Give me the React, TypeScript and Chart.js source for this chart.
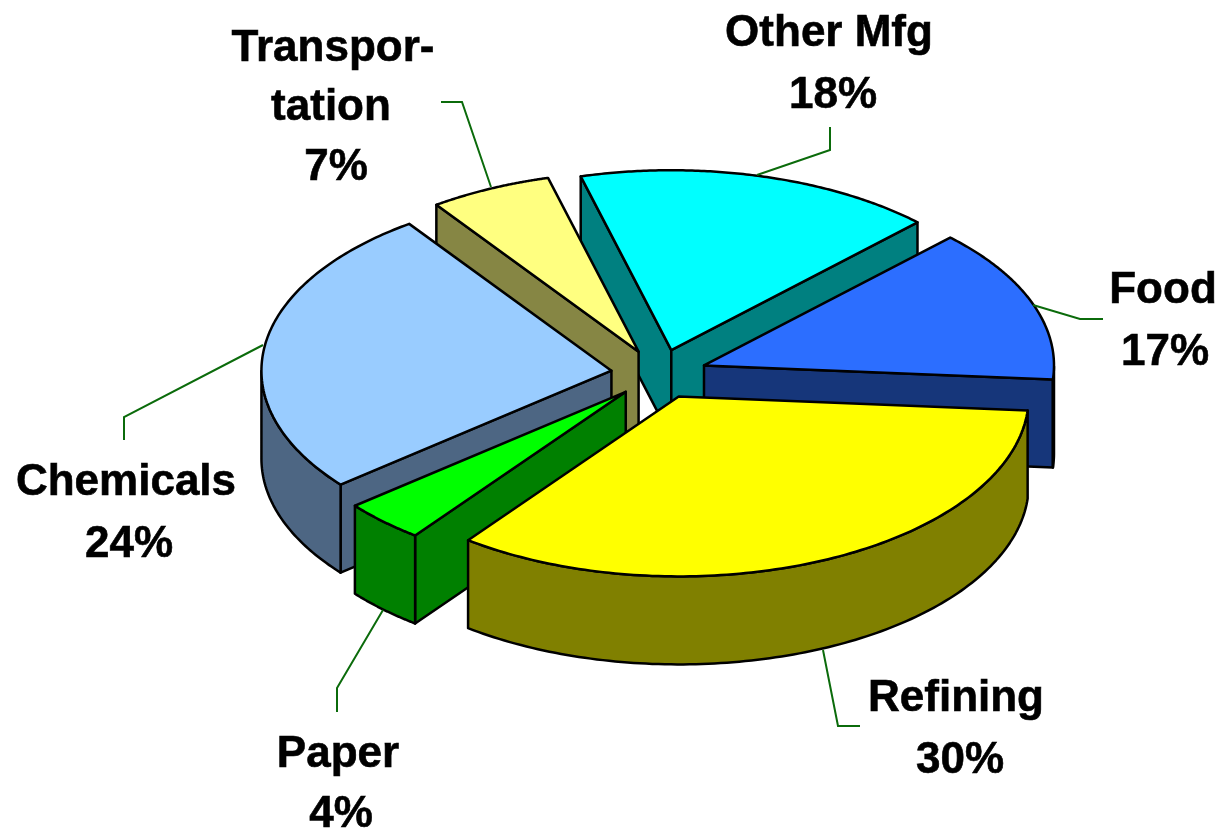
import React, { useEffect, useRef } from "react";
import { Chart, registerables } from "chart.js";

Chart.register(...registerables);

const categories = ["Food", "Refining", "Paper", "Chemicals", "Transportation", "Other Mfg"];
const shares = [17, 30, 4, 24, 7, 18];
const topColors = ["#2C6EFF", "#FFFF00", "#00FF00", "#99CCFF", "#FFFF80", "#00FFFF"];
const wallColors = ["#16367A", "#808000", "#008000", "#4D6683", "#868644", "#008080"];
const labelLines = [["Food"], ["Refining"], ["Paper"], ["Chemicals"], ["Transpor-", "tation"], ["Other Mfg"]];

// Layout of the labels: centre x and first baseline y per line, and the leader line next to each.
const labelAnchors = [
  [[1163, 303], [1165, 365]],
  [[956, 711], [960, 773]],
  [[338, 767], [341, 827]],
  [[126, 495], [129, 557]],
  [[333, 61], [331, 120], [336, 180]],
  [[829, 46], [833, 108]],
];
const leaders = [
  [[1033, 305], [1080, 319], [1103, 319]],
  [[823, 650], [838, 726], [860, 726]],
  [[383, 610], [337, 688], [337, 712]],
  [[263, 345], [124, 417], [124, 440]],
  [[491, 187], [462, 102], [441, 102]],
  [[757, 175], [830, 150], [830, 127]],
];

// The reference is a 3D pie in perspective: the slices' rendered angles differ from their true
// share. Skew (degrees) at the start boundary of each slice, in category order.
const perspectiveSkewDeg = [-1.7, -13.1, 1.4, 0.7, 8.3, 3.4];
const TILT = 0.514;
const DEPTH = 88;
const EXPLODE = 48;
const RADIUS = 350;
const ROTATION = 46.4;

const deg = Math.PI / 180;

const piePlugin = {
  id: "tiltedPie",
  beforeDatasetsDraw(chart: any) {
    const ctx: CanvasRenderingContext2D = chart.ctx;
    const arcs: any[] = chart.getDatasetMeta(0).data;
    const n = arcs.length;

    const slices = arcs.map((arc, i) => {
      const s = arc.startAngle + perspectiveSkewDeg[i] * deg;
      const e = arc.endAngle + perspectiveSkewDeg[(i + 1) % n] * deg;
      const mid = (s + e) / 2;
      const off = arc.options.offset;
      const ax = arc.x + Math.cos(mid) * off;
      const ay = arc.y + Math.sin(mid) * off * TILT;
      const r = arc.outerRadius;
      const pt = (a: number): [number, number] => [ax + Math.cos(a) * r, ay + Math.sin(a) * r * TILT];
      return { i, s, e, mid, ax, ay, pt, arc };
    });

    const order = [...slices].sort((p, q) => Math.sin(p.mid) - Math.sin(q.mid));
    ctx.save();
    ctx.lineJoin = "round";
    ctx.lineWidth = 2.5;
    ctx.strokeStyle = "#000000";

    const fillStroke = (pts: [number, number][], color: string) => {
      ctx.beginPath();
      pts.forEach(([x, y], k) => (k ? ctx.lineTo(x, y) : ctx.moveTo(x, y)));
      ctx.closePath();
      ctx.fillStyle = color;
      ctx.fill();
      ctx.stroke();
    };

    for (const sl of order) {
      const wall = wallColors[sl.i];
      const radialWall = (a: number) => {
        const p = sl.pt(a);
        fillStroke(
          [[sl.ax, sl.ay], p, [p[0], p[1] + DEPTH], [sl.ax, sl.ay + DEPTH]],
          wall
        );
      };
      if (Math.cos(sl.s) < 0) radialWall(sl.s);
      if (Math.cos(sl.e) > 0) radialWall(sl.e);

      // outer rim: only the part of the arc facing the viewer
      const rim: [number, number][] = [];
      const steps = 120;
      for (let k = 0; k <= steps; k++) {
        const a = sl.s + ((sl.e - sl.s) * k) / steps;
        if (Math.sin(a) >= 0) rim.push(sl.pt(a));
      }
      if (rim.length > 1) {
        const lower = rim.map(([x, y]) => [x, y + DEPTH] as [number, number]).reverse();
        fillStroke([...rim, ...lower], wall);
      }

      const top: [number, number][] = [[sl.ax, sl.ay]];
      for (let k = 0; k <= steps; k++) top.push(sl.pt(sl.s + ((sl.e - sl.s) * k) / steps));
      fillStroke(top, topColors[sl.i]);
    }

    // leader lines
    ctx.strokeStyle = "#0B6B0B";
    ctx.lineWidth = 2;
    ctx.lineJoin = "miter";
    leaders.forEach((pts) => {
      ctx.beginPath();
      pts.forEach(([x, y], k) => (k ? ctx.lineTo(x, y) : ctx.moveTo(x, y)));
      ctx.stroke();
    });

    // labels
    ctx.fillStyle = "#000000";
    ctx.strokeStyle = "#000000";
    ctx.lineWidth = 0.6;
    ctx.font = 'bold 44px "Liberation Sans", Arial, sans-serif';
    ctx.textAlign = "center";
    ctx.textBaseline = "alphabetic";
    categories.forEach((_, i) => {
      const lines = [...labelLines[i], `${shares[i]}%`];
      lines.forEach((t, k) => {
        const [x, y] = labelAnchors[i][k];
        ctx.fillText(t, x, y);
        ctx.strokeText(t, x, y);
      });
    });
    ctx.restore();
    return false;
  },
};

export default function App() {
  const ref = useRef<HTMLCanvasElement>(null);
  useEffect(() => {
    const chart = new Chart(ref.current as HTMLCanvasElement, {
      type: "pie",
      data: {
        labels: categories,
        datasets: [
          {
            data: shares,
            backgroundColor: topColors,
            borderColor: "#000000",
            borderWidth: 2,
            offset: EXPLODE,
          },
        ],
      },
      options: {
        animation: false,
        responsive: false,
        events: [],
        rotation: ROTATION,
        radius: RADIUS,
        layout: { padding: { left: 96, bottom: 82 } },
        plugins: { legend: { display: false }, tooltip: { enabled: false }, title: { display: false } },
      },
      plugins: [piePlugin],
    } as any);
    return () => chart.destroy();
  }, []);
  return (
    <canvas
      ref={ref}
      width={1222}
      height={830}
      style={{ position: "fixed", left: 0, top: 0, width: 1222, height: 830, background: "#ffffff" }}
    />
  );
}
